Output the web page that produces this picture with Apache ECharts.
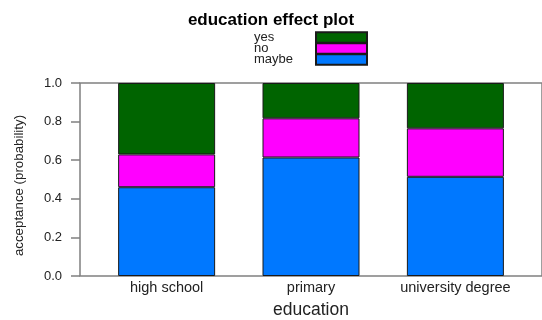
<!DOCTYPE html>
<html>
<head>
<meta charset="utf-8">
<script src="https://cdn.jsdelivr.net/npm/echarts@6/dist/echarts.min.js"></script>
<style>
  html, body { margin: 0; padding: 0; background: #fff; }
  #chart { width: 542px; height: 320px; }
</style>
</head>
<body>
<div id="chart"></div>
<script>
// Education levels along the horizontal axis
const categories = ['high school', 'primary', 'university degree'];
// Stacked probabilities of each response, bottom to top
const maybeValues = [0.46, 0.614, 0.514];
const noValues = [0.17, 0.203, 0.251];
const yesValues = [0.37, 0.183, 0.235];
const legendOrder = ['yes', 'no', 'maybe'];

const FONT = '"Liberation Sans", Arial, sans-serif';
const colors = { maybe: '#0078FF', no: '#FF00FF', yes: '#006400' };

// Panel frame spans x 80..542; the three category bands sit inside it
// with 0.6 of a band of padding on each side.
const PANEL_LEFT = 80, PANEL_WIDTH = 462, TOP = 83, BOTTOM = 44;
const BAND = PANEL_WIDTH / 3.2;
const BARS_LEFT = PANEL_LEFT + 0.1 * BAND;

function barSeries(name, values) {
  return {
    name: name,
    type: 'bar',
    stack: 'total',
    xAxisIndex: 1,
    yAxisIndex: 1,
    barWidth: 97,
    data: values,
    itemStyle: { color: colors[name], borderColor: '#1a1a1a', borderWidth: 1 },
    emphasis: { disabled: true }
  };
}

const chart = echarts.init(document.getElementById('chart'), null, { renderer: 'canvas' });
chart.setOption({
  animation: false,
  backgroundColor: '#fff',
  textStyle: { fontFamily: FONT },
  title: {
    text: 'education effect plot',
    left: 'center',
    top: 7,
    textStyle: { fontFamily: FONT, fontSize: 17, fontWeight: 'bold', color: '#000' }
  },
  legend: {
    data: legendOrder,
    orient: 'vertical',
    align: 'right',
    left: 254,
    top: 31,
    padding: 0,
    itemGap: -2,
    itemWidth: 51,
    itemHeight: 10.7,
    icon: 'rect',
    selectedMode: false,
    formatter: '{t|{name}}',
    textStyle: {
      fontFamily: FONT,
      fontSize: 13,
      lineHeight: 10.7,
      height: 10.7,
      color: '#222',
      rich: {
        t: { width: 57, height: 10.7, lineHeight: 10.7, align: 'left', fontSize: 13, fontFamily: FONT, color: '#222' }
      }
    }
  },
  grid: [
    {
      left: PANEL_LEFT,
      width: PANEL_WIDTH,
      top: TOP,
      bottom: BOTTOM,
      outerBoundsMode: 'none',
      containLabel: false,
      show: true,
      borderColor: '#808080',
      borderWidth: 1.5,
      backgroundColor: 'transparent'
    },
    {
      left: BARS_LEFT,
      width: BAND * 3,
      top: TOP,
      bottom: BOTTOM,
      outerBoundsMode: 'none',
      containLabel: false
    }
  ],
  xAxis: [
    {
      gridIndex: 0,
      type: 'value',
      show: false
    },
    {
      gridIndex: 1,
      type: 'category',
      data: categories,
      name: 'education',
      nameLocation: 'middle',
      nameGap: 25,
      nameTextStyle: { fontFamily: FONT, fontSize: 17.5, color: '#222' },
      axisLine: { show: false },
      axisTick: { show: false },
      splitLine: { show: false },
      axisLabel: {
        margin: 4,
        fontFamily: FONT,
        fontSize: 14.5,
        color: '#222'
      }
    }
  ],
  yAxis: [
    {
      gridIndex: 0,
      type: 'value',
      min: 0,
      max: 1,
      interval: 0.2,
      name: 'acceptance (probability)',
      nameLocation: 'middle',
      nameGap: 54,
      nameTextStyle: { fontFamily: FONT, fontSize: 13.3, color: '#222', padding: [0, 12, 0, 0] },
      axisLine: { show: false },
      axisTick: { show: true, length: 9, lineStyle: { color: '#808080', width: 1.5 } },
      splitLine: { show: false },
      axisLabel: {
        margin: 18,
        fontFamily: FONT,
        fontSize: 13,
        color: '#222',
        formatter: v => v.toFixed(1)
      }
    },
    {
      gridIndex: 1,
      type: 'value',
      min: 0,
      max: 1,
      show: false
    }
  ],
  series: [
    barSeries('maybe', maybeValues),
    barSeries('no', noValues),
    barSeries('yes', yesValues)
  ]
});
</script>
</body>
</html>
